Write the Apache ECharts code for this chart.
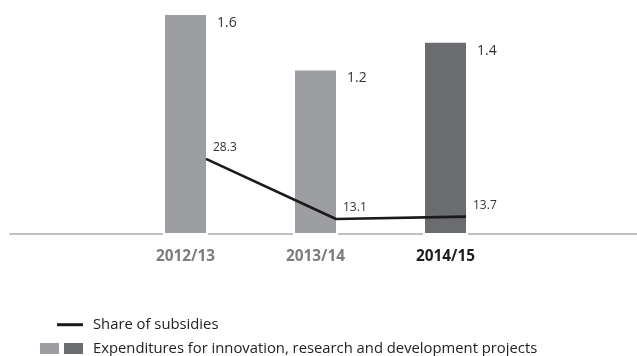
<!DOCTYPE html>
<html>
<head>
<meta charset="utf-8">
<style>
  html, body { margin: 0; padding: 0; background: #ffffff; }
  #chart { width: 637px; height: 356px; }
</style>
<script src="https://cdn.jsdelivr.net/npm/echarts@6/dist/echarts.min.js"></script>
</head>
<body>
<div id="chart"></div>
<script>
// Fiscal years on the category axis
const categories = ['2012/13', '2013/14', '2014/15'];
// Expenditures for innovation, research and development projects (earlier years / current year)
const expendituresEarlier = [1.6, 1.2, '-'];
const expendituresCurrent = ['-', '-', 1.4];
// Share of subsidies
const subsidyShare = [28.3, 13.1, 13.7];

const currentYear = '2014/15';
const barName = 'Expenditures for innovation, research and development projects';
const barEarlierName = 'Earlier years';
const lineName = 'Share of subsidies';

const FONT = '"Open Sans", "Noto Sans", sans-serif';
const LIGHT = '#9d9ea2';
const DARK = '#6b6c70';
const LINE = '#1a1a1a';

const chart = echarts.init(document.getElementById('chart'), null, { renderer: 'canvas' });

const barLabel = {
  show: true,
  position: [54, 10],
  align: 'left',
  verticalAlign: 'middle',
  fontFamily: FONT,
  fontSize: 14,
  color: '#333333',
  formatter: p => Number(p.value).toFixed(1)
};

chart.setOption({
  animation: false,
  backgroundColor: '#ffffff',
  grid: [
    // bars
    { left: 120.5, right: 126.5, top: 13, bottom: 121 },
    // line, anchored at the right edge of each bar
    { left: 141, right: 106, top: 13, bottom: 122 },
    // full-width baseline
    { left: 10, right: 0, top: 13, bottom: 122 }
  ],
  xAxis: [
    {
      type: 'category', gridIndex: 0, data: categories,
      axisLine: { show: false }, axisTick: { show: false },
      axisLabel: {
        margin: 14,
        formatter: v => v === currentYear ? '{cur|' + v + '}' : '{old|' + v + '}',
        rich: {
          old: { fontFamily: FONT, fontSize: 15.4, fontWeight: 'bold', color: '#7d7d7d' },
          cur: { fontFamily: FONT, fontSize: 15.4, fontWeight: 'bold', color: '#1e1e1e' }
        }
      }
    },
    {
      type: 'category', gridIndex: 1, data: categories, show: false
    },
    {
      type: 'value', gridIndex: 2, min: 0, max: 1,
      axisLine: { show: true, lineStyle: { color: '#c0c0c0', width: 2 } },
      axisTick: { show: false }, axisLabel: { show: false }, splitLine: { show: false }
    }
  ],
  yAxis: [
    { type: 'value', gridIndex: 0, min: 0, max: 1.6, show: false },
    { type: 'value', gridIndex: 1, min: 9.3, max: 65.2, show: false },
    { type: 'value', gridIndex: 2, min: 0, max: 1, show: false }
  ],
  legend: [
    {
      left: 57, top: 317.2, padding: 0,
      itemWidth: 26, itemHeight: 3,
      data: [{ name: lineName, icon: 'rect', itemStyle: { color: LINE, opacity: 1, borderWidth: 0 } }],
      textStyle: { fontFamily: FONT, fontSize: 14.8, color: '#222222', padding: [0, 0, 9, 5] }
    },
    {
      left: 40, top: 341, padding: 0,
      itemWidth: 19, itemHeight: 11, itemGap: 5,
      data: [
        { name: barEarlierName, icon: 'rect', itemStyle: { color: LIGHT, borderWidth: 0 }, textStyle: { padding: 0 } },
        { name: barName, icon: 'rect', itemStyle: { color: DARK, borderWidth: 0 }, textStyle: { padding: [0, 0, 0, 5] } }
      ],
      formatter: n => n === barEarlierName ? '' : n,
      textStyle: { fontFamily: FONT, fontSize: 14.8, color: '#222222' }
    }
  ],
  series: [
    {
      name: barEarlierName, type: 'bar', xAxisIndex: 0, yAxisIndex: 0,
      stack: 'exp', barWidth: 45, data: expendituresEarlier,
      itemStyle: { color: LIGHT, borderColor: '#ffffff', borderWidth: 2 },
      label: barLabel, z: 2
    },
    {
      name: barName, type: 'bar', xAxisIndex: 0, yAxisIndex: 0,
      stack: 'exp', barWidth: 45, data: expendituresCurrent,
      itemStyle: { color: DARK, borderColor: '#ffffff', borderWidth: 2 },
      label: barLabel, z: 2
    },
    {
      name: lineName, type: 'line', xAxisIndex: 1, yAxisIndex: 1,
      data: subsidyShare,
      symbol: 'circle', symbolSize: 2,
      itemStyle: { color: 'rgba(0,0,0,0)' },
      lineStyle: { color: LINE, width: 2.6 },
      label: {
        show: true, position: 'right', distance: 5, offset: [1, -11],
        fontFamily: FONT, fontSize: 12, color: '#333333',
        formatter: p => Number(p.value).toFixed(1)
      },
      z: 3
    }
  ]
});
</script>
</body>
</html>
